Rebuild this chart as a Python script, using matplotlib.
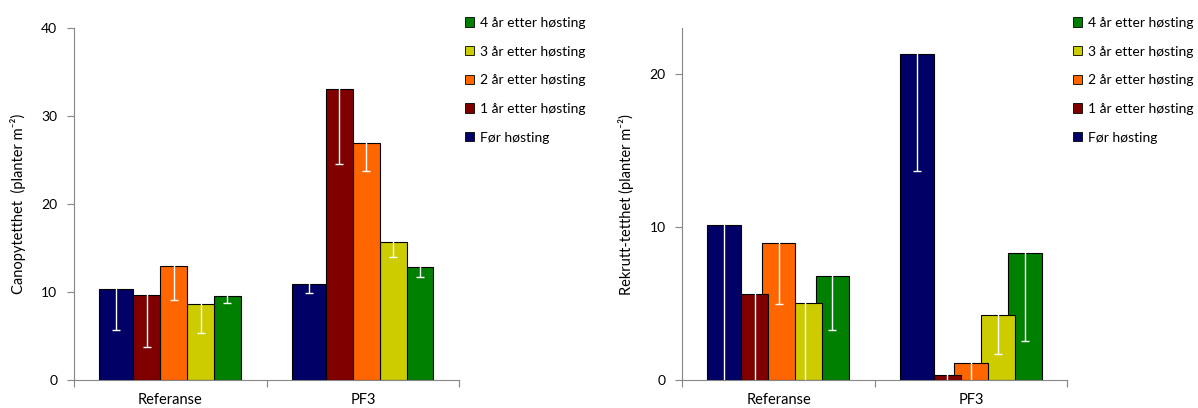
import numpy as np
import matplotlib.pyplot as plt
from matplotlib.patches import Patch

plt.rcParams['font.family'] = ['Lato', 'DejaVu Sans']

categories = ['Referanse', 'PF3']
series = ['Før høsting', '1 år etter høsting', '2 år etter høsting',
          '3 år etter høsting', '4 år etter høsting']
colors = ['#000066', '#800000', '#FF6600', '#CCCC00', '#008000']

# canopy density, one value per series
canopy_ref = [10.35, 9.7, 13.0, 8.7, 9.6]
canopy_pf3 = [10.9, 33.1, 26.9, 15.7, 12.8]
canopy_ref_err = [4.66, 6.0, 3.9, 3.34, 0.83]
canopy_pf3_err = [1.06, 8.57, 3.1, 1.67, 1.1]

# recruit density
rekrutt_ref = [10.15, 5.64, 8.93, 5.04, 6.82]
rekrutt_pf3 = [21.3, 0.33, 1.10, 4.23, 8.31]
rekrutt_ref_err = [11.0, 6.4, 3.95, 5.8, 3.55]
rekrutt_pf3_err = [7.65, 1.0, 1.8, 2.52, 5.76]

# bar placement inside each category
left_offsets = [-0.281, -0.122, 0.018, 0.157, 0.295]
left_widths = [0.178, 0.14, 0.14, 0.14, 0.14]
right_offsets = [-0.281, -0.123, 0.0, 0.14, 0.28]
right_widths = [0.176, 0.139, 0.175, 0.175, 0.175]

axis_grey = '#868686'

fig = plt.figure(figsize=(11.98, 4.08), dpi=100)
ax1 = fig.add_axes([0.0618, 0.0686, 0.3216, 0.862])
ax2 = fig.add_axes([0.5695, 0.0686, 0.3214, 0.862])


def draw_panel(ax, ref, pf3, ref_err, pf3_err, offsets, widths, ymax, yticks, ylabel):
    x = np.arange(len(categories))
    for i, name in enumerate(series):
        vals = [ref[i], pf3[i]]
        errs = [ref_err[i], pf3_err[i]]
        pos = x + offsets[i]
        ax.bar(pos, vals, widths[i], color=colors[i], edgecolor='black',
               linewidth=0.8, zorder=5 - i)
        ax.errorbar(pos, vals, yerr=errs, fmt='none', ecolor='white',
                    elinewidth=1, capsize=3, capthick=1, zorder=10)
    ax.set_xlim(-0.5, 1.5)
    ax.set_ylim(0, ymax)
    ax.set_yticks(yticks)
    for s in ['top', 'right']:
        ax.spines[s].set_visible(False)
    for s in ['left', 'bottom']:
        ax.spines[s].set_color(axis_grey)
        ax.spines[s].set_linewidth(0.8)
    ax.set_xticks([-0.5, 0.5, 1.5])
    ax.set_xticklabels([])
    ax.set_xticks(x, minor=True)
    ax.set_xticklabels(categories, minor=True)
    ax.tick_params(axis='x', which='minor', length=0, pad=9, labelsize=10.5)
    ax.tick_params(axis='x', which='major', length=5, color=axis_grey, width=0.8)
    ax.tick_params(axis='y', length=5, color=axis_grey, width=0.8, pad=7,
                   labelsize=10)
    ax.text(-0.145, 0.5, ylabel, transform=ax.transAxes, rotation=90,
            ha='center', va='center', fontsize=10.5)


draw_panel(ax1, canopy_ref, canopy_pf3, canopy_ref_err, canopy_pf3_err,
           left_offsets, left_widths, 40, [0, 10, 20, 30, 40],
           'Canopytetthet  (planter m⁻²)')
draw_panel(ax2, rekrutt_ref, rekrutt_pf3, rekrutt_ref_err, rekrutt_pf3_err,
           right_offsets, right_widths, 23, [0, 10, 20],
           'Rekrutt-tetthet (planter m⁻²)')

handles = [Patch(facecolor=c, edgecolor='black', linewidth=0.6) for c in colors]
for x0 in [465 / 1198, 1073 / 1198]:
    fig.legend(handles[::-1], series[::-1], loc='upper left',
               bbox_to_anchor=(x0, 1 - 17 / 408), frameon=False,
               handlelength=0.65, handleheight=0.65, handletextpad=0.4,
               labelspacing=1.2, borderpad=0, borderaxespad=0, fontsize=10)

plt.savefig('out.png', dpi=100)
